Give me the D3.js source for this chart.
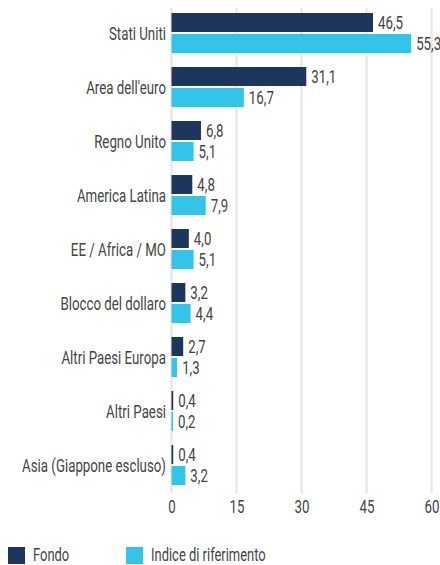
<!DOCTYPE html>
<html><head><meta charset="utf-8">
<script src="https://cdn.jsdelivr.net/npm/d3@7"></script>
<style>
html,body{margin:0;padding:0;background:#fff;}
svg text{font-family:"Roboto","Liberation Sans",sans-serif;fill:#444444;font-weight:400;}
</style></head>
<body><svg id="c" width="440" height="565"></svg>
<script>
const categories = ["Stati Uniti","Area dell'euro","Regno Unito","America Latina","EE / Africa / MO","Blocco del dollaro","Altri Paesi Europa","Altri Paesi","Asia (Giappone escluso)"];
const fondo = [46.5,31.1,6.8,4.8,4.0,3.2,2.7,0.4,0.4];
const indice = [55.3,16.7,5.1,7.9,5.1,4.4,1.3,0.2,3.2];
const seriesNames = ["Fondo","Indice di riferimento"];
const tickValues = [0,15,30,45,60];
const colors = ["#1c365e","#33c4e8"];
const SX = 0.7, FS = "19px";

const svg = d3.select("#c");
const x = d3.scaleLinear().domain([0,60]).range([171.5,431.5]);
const y = d3.scaleBand().domain(categories).range([6,492]).paddingInner(14/54).paddingOuter(7/54);
const y1 = d3.scaleBand().domain(seriesNames).range([0,y.bandwidth()]).paddingInner(2/21);

// gridlines
svg.append("g").selectAll("line").data(tickValues).join("line")
  .attr("x1",d=>x(d)).attr("x2",d=>x(d)).attr("y1",8).attr("y2",493)
  .attr("stroke","#e8e8e8").attr("stroke-width",2.5);

// axis tick labels
const axis = d3.axisBottom(x).tickValues(tickValues).tickSize(0).tickPadding(0).tickFormat(d3.format("d"));
const ax = svg.append("g").attr("transform","translate(0,499)").call(axis);
ax.select(".domain").remove();
ax.selectAll("text").attr("dy",null).attr("y",13.5).attr("transform",`scale(${SX},1)`)
  .style("font-size",FS).style("font-family",null).attr("fill",null);

const data = categories.map((c,i)=>({cat:c, vals:[fondo[i],indice[i]]}));
const g = svg.append("g").selectAll("g").data(data).join("g")
  .attr("transform",d=>`translate(0,${y(d.cat)})`);

const pts = d=>d.vals.map((v,j)=>({v,s:seriesNames[j],j}));
g.selectAll("rect").data(pts).join("rect")
  .attr("x",x(0)).attr("y",d=>y1(d.s)).attr("height",y1.bandwidth())
  .attr("width",d=>Math.max(1.5,x(d.v)-x(0))).attr("fill",d=>colors[d.j]);

g.selectAll("g.v").data(pts).join("g").attr("class","v")
  .attr("transform",d=>`translate(${Math.max(x(d.v),x(0)+1.5)+5},${y1(d.s)+y1.bandwidth()/2}) scale(${SX},1)`)
  .append("text").attr("dy","0.36em").style("font-size",FS)
  .text(d=>d3.format(".1f")(d.v).replace(".",","));

g.append("g").attr("transform",`translate(166,${y.bandwidth()/2}) scale(${SX},1)`)
  .append("text").attr("dy","0.36em").attr("text-anchor","end").style("font-size",FS).text(d=>d.cat);

// legend
const lx = [8,126];
const lg = svg.append("g").selectAll("g").data(seriesNames).join("g")
  .attr("transform",(d,i)=>`translate(${lx[i]},547)`);
lg.append("rect").attr("width",17).attr("height",17).attr("fill",(d,i)=>colors[i]);
lg.append("g").attr("transform",`translate(25,13.5) scale(${SX},1)`)
  .append("text").style("font-size","18.5px").text(d=>d);
</script></body></html>
